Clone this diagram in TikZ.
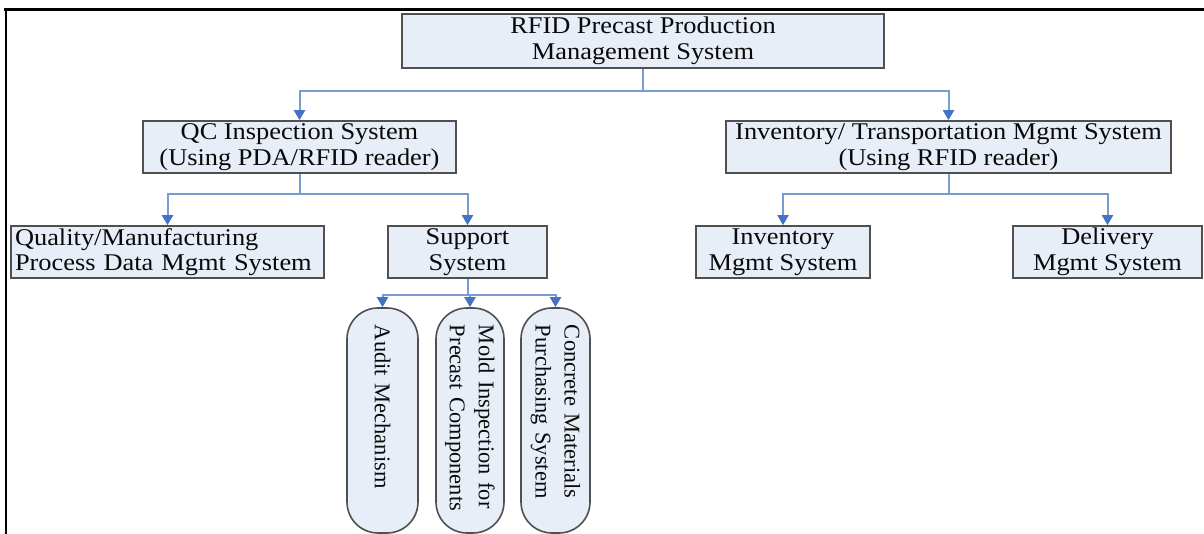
\documentclass[tikz,border=0pt]{standalone}
\usepackage{fontspec}
\setmainfont{Liberation Serif}[FakeStretch=1.1]
\newfontfamily\pillfont{Liberation Serif}
\usetikzlibrary{arrows.meta}
\definecolor{boxfill}{RGB}{232,238,248}
\definecolor{boxdraw}{RGB}{80,80,80}
\definecolor{connline}{RGB}{120,156,210}
\definecolor{tipblue}{RGB}{68,114,196}
\definecolor{textcol}{RGB}{10,10,10}
\tikzset{
  box/.style={draw=boxdraw, fill=boxfill, line width=1.6pt, inner sep=2pt, align=center,
    text=textcol, font=\fontsize{24}{25.5}\selectfont},
  pill/.style={draw=boxdraw, fill=boxfill, line width=1.6pt, rotate=-90, rounded corners=31pt,
    minimum width=225pt, inner xsep=17pt, inner ysep=2pt, align=left,
    text=textcol, font=\pillfont\fontsize{22.5}{29}\selectfont},
  conn/.style={draw=connline, line width=2pt,
    -{Triangle[width=11pt,length=10pt,color=tipblue]}},
  stem/.style={draw=connline, line width=2pt},
}
\begin{document}
\begin{tikzpicture}[x=1pt,y=1pt]
\useasboundingbox (0,0) rectangle (1204,-534);
% frame
\draw[line width=3pt] (4,-10) -- (1204,-10);
\draw[line width=2.3pt] (6,-10) -- (6,-536);
% nodes
\node[box, minimum width=482pt, minimum height=54pt] (root) at (643,-41)
  {RFID Precast Production\\Management System};
\node[box, minimum width=313pt, minimum height=52pt] (qc) at (299.5,-147)
  {QC Inspection System\\(Using PDA/RFID reader)};
\node[box, minimum width=445pt, minimum height=52pt] (inv) at (948.5,-147)
  {Inventory/ Transportation Mgmt System\\(Using RFID reader)};
\node[box, minimum width=313pt, minimum height=52pt, text width=305pt, align=left] (qual) at (167.5,-252)
  {Quality/Manufacturing\\Process Data Mgmt System};
\node[box, minimum width=159pt, minimum height=52pt] (sup) at (467.5,-252)
  {Support\\System};
\node[box, minimum width=174pt, minimum height=52pt] (invm) at (783,-252)
  {Inventory\\Mgmt System};
\node[box, minimum width=189pt, minimum height=52pt] (deliv) at (1107.5,-252)
  {Delivery\\Mgmt System};
\node[pill, minimum height=71pt, text width=191pt] (audit) at (382.5,-420.5)
  {Audit Mechanism};
\node[pill, minimum height=68pt, text width=191pt] (mold) at (470,-420.5)
  {Mold Inspection for\\Precast Components};
\node[pill, minimum height=69pt, text width=191pt] (conc) at (555.5,-420.5)
  {Concrete Materials\\Purchasing System};
% connectors
\draw[stem] (root.south) -- ++(0,-22) coordinate (rj);
\draw[conn] (rj) -| (qc.north);
\draw[conn] (rj) -| (inv.north);
\draw[stem] (qc.south) -- ++(0,-20) coordinate (qj);
\draw[conn] (qj) -| (qual.north);
\draw[conn] (qj) -| (sup.north);
\draw[stem] (inv.south) -- ++(0,-20) coordinate (ij);
\draw[conn] (ij) -| (invm.north);
\draw[conn] (ij) -| (deliv.north);
\draw[stem] (sup.south) -- ++(0,-16) coordinate (sj);
\draw[conn] (sj) -| (audit.west);
\draw[conn] (sj) -| (mold.west);
\draw[conn] (sj) -| (conc.west);
\end{tikzpicture}
\end{document}
